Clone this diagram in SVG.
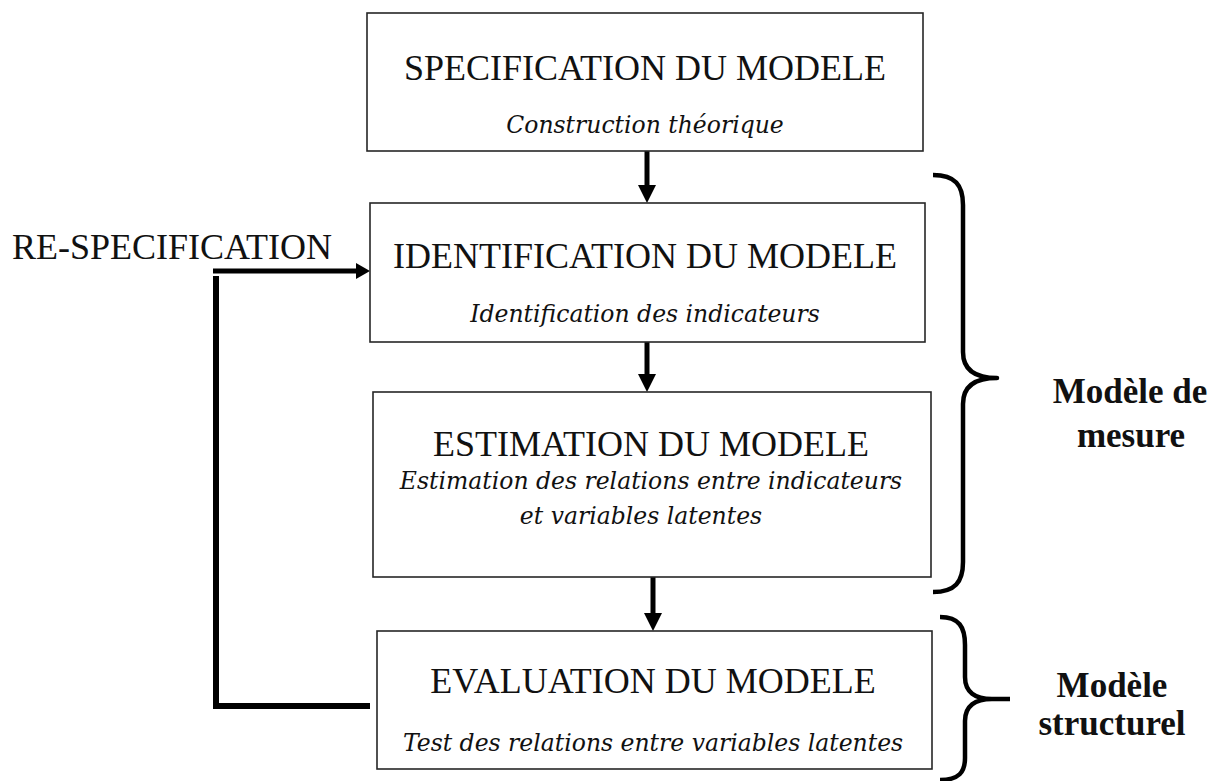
<svg xmlns="http://www.w3.org/2000/svg" width="1228" height="781" viewBox="0 0 1228 781">
  <style>
    .box { fill: #ffffff; stroke: #262626; stroke-width: 1.6; }
    .title { font-family: "Liberation Serif", "Times New Roman", serif; font-size: 36px; fill: #111; text-anchor: middle; }
    .sub { font-family: "DejaVu Serif", "Liberation Serif", serif; font-style: italic; font-size: 23.5px; fill: #111; text-anchor: middle; }
    .side { font-family: "Liberation Serif", "Times New Roman", serif; font-size: 35px; font-weight: bold; fill: #111; text-anchor: middle; }
    .flow { stroke: #000; stroke-width: 5; fill: none; }
    .loop { stroke: #000; stroke-width: 6; fill: none; }
    .brace { stroke: #000; stroke-width: 4.5; fill: none; stroke-linejoin: round; }
  </style>
  <defs>
    <marker id="head" markerUnits="userSpaceOnUse" markerWidth="20" markerHeight="18" refX="8" refY="9" orient="auto">
      <path d="M0,0 L18,9 L0,18 z" fill="#000"/>
    </marker>
    <marker id="headSmall" markerUnits="userSpaceOnUse" markerWidth="16" markerHeight="16" refX="4" refY="8" orient="auto">
      <path d="M0,0 L14,8 L0,16 z" fill="#000"/>
    </marker>
  </defs>

  <rect width="1228" height="781" fill="#ffffff"/>

  <!-- connectors -->
  <g id="connectors">
    <line class="flow" x1="647" y1="151" x2="647" y2="193" marker-end="url(#head)"/>
    <line class="flow" x1="647" y1="342" x2="647" y2="382" marker-end="url(#head)"/>
    <line class="flow" x1="653" y1="577" x2="653" y2="621" marker-end="url(#head)"/>
    <!-- re-specification loop -->
    <line class="loop" x1="370" y1="706" x2="213" y2="706"/>
    <line class="loop" x1="216" y1="709" x2="216" y2="276"/>
    <line class="flow" x1="213" y1="271" x2="360" y2="271" marker-end="url(#headSmall)"/>
  </g>

  <g id="specification">
    <rect class="box" x="367" y="13" width="556" height="138"/>
    <text class="title" x="645" y="80">SPECIFICATION DU MODELE</text>
    <text class="sub" x="645" y="133">Construction théorique</text>
  </g>

  <g id="identification">
    <rect class="box" x="370" y="203" width="555" height="139"/>
    <text class="title" x="645" y="268">IDENTIFICATION DU MODELE</text>
    <text class="sub" x="645" y="322">Identification des indicateurs</text>
  </g>

  <g id="estimation">
    <rect class="box" x="373" y="392" width="558" height="185"/>
    <text class="title" x="651" y="456">ESTIMATION DU MODELE</text>
    <text class="sub" x="651" y="489">Estimation des relations entre indicateurs</text>
    <text class="sub" x="641" y="524">et variables latentes</text>
  </g>

  <g id="evaluation">
    <rect class="box" x="377" y="631" width="555" height="138"/>
    <text class="title" x="653" y="693">EVALUATION DU MODELE</text>
    <text class="sub" x="653" y="751">Test des relations entre variables latentes</text>
  </g>

  <g id="respecification">
    <text class="title" x="172" y="259">RE-SPECIFICATION</text>
  </g>

  <g id="mesure">
    <path class="brace" d="M933,175 C955,175 963,185 963,205 L963,352 C963,370 975,378 997,378 C975,378 963,386 963,404 L963,562 C963,582 955,592 933,592"/>
    <text class="side" x="1130" y="403">Modèle de</text>
    <text class="side" x="1131" y="447">mesure</text>
  </g>

  <g id="structurel">
    <path class="brace" d="M940,617 C959,617 965,627 965,645 L965,677 C965,692 975,699 992,699 L1010,699 M992,699 C975,699 965,706 965,721 L965,758 C965,772 959,780 940,780"/>
    <text class="side" x="1112" y="697">Modèle</text>
    <text class="side" x="1112" y="735">structurel</text>
  </g>
</svg>
